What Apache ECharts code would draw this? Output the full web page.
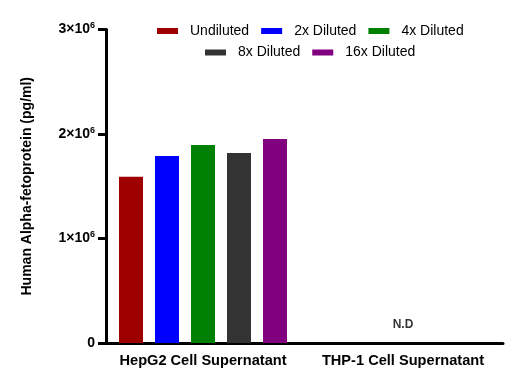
<!DOCTYPE html>
<html>
<head>
<meta charset="utf-8">
<script src="https://cdn.jsdelivr.net/npm/echarts@6/dist/echarts.min.js"></script>
<style>html,body{margin:0;padding:0;background:#fff;}#c{width:510px;height:384px;}</style>
</head>
<body>
<div id="c"></div>
<script>
var categories = ['HepG2 Cell Supernatant', 'THP-1 Cell Supernatant'];
var seriesNames = ['Undiluted', '2x Diluted', '4x Diluted', '8x Diluted', '16x Diluted'];
var undiluted = [1590000, null];
var diluted2x = [1790000, null];
var diluted4x = [1895000, null];
var diluted8x = [1818000, null];
var diluted16x = [1952000, null];
var notDetected = [null, 0];
var notDetectedLabel = 'N.D';
var yTicks = [0, 1000000, 2000000, 3000000];

var colors = ['#9E0000', '#0000FF', '#008000', '#333333', '#800080'];
var values = [undiluted, diluted2x, diluted4x, diluted8x, diluted16x];
var FONT = '"Liberation Sans", Arial, sans-serif';

var chart = echarts.init(document.getElementById('c'));
var series = seriesNames.map(function (n, i) {
  return {
    name: n, type: 'bar', data: values[i], barWidth: 24, barGap: '50%',
    itemStyle: { color: colors[i] }
  };
});
series.push({
  name: 'nd', type: 'scatter', data: notDetected, symbolSize: 0,
  label: { show: true, position: 'top', distance: 12, formatter: notDetectedLabel,
    fontFamily: FONT, fontWeight: 'bold', fontSize: 12, color: '#000' },
  silent: true
});

var legendCommon = {
  icon: 'rect', itemWidth: 21, itemHeight: 6, itemGap: 12, padding: 0,
  textStyle: { fontFamily: FONT, fontSize: 14, color: '#000', padding: [0, 0, 0, 7] },
  selectedMode: false
};

chart.setOption({
  animation: false,
  backgroundColor: '#fff',
  color: colors,
  grid: { left: 103, right: 7, top: 29.5, bottom: 41, containLabel: false },
  legend: [
    Object.assign({ data: seriesNames.slice(0, 3), left: 157, top: 24 }, legendCommon),
    Object.assign({ data: seriesNames.slice(3), left: 205, top: 45.5 }, legendCommon)
  ],
  xAxis: {
    type: 'category', data: categories,
    axisLine: { lineStyle: { color: '#000', width: 3 } },
    axisTick: { alignWithLabel: true, length: 3, lineStyle: { color: '#000', width: 2 } },
    axisLabel: { interval: 0, fontFamily: FONT, fontWeight: 'bold', fontSize: 14.6, color: '#000', margin: 10 }
  },
  yAxis: {
    type: 'value', min: yTicks[0], max: yTicks[yTicks.length - 1], interval: yTicks[1] - yTicks[0],
    offset: -3,
    name: 'Human Alpha-fetoprotein (pg/ml)', nameLocation: 'middle', nameGap: 72,
    nameTextStyle: { fontFamily: FONT, fontWeight: 'bold', fontSize: 14, color: '#000' },
    splitLine: { show: false },
    axisLine: { show: true, lineStyle: { color: '#000', width: 3 } },
    axisTick: { show: true, length: 8, lineStyle: { color: '#000', width: 3 } },
    axisLabel: {
      margin: 11, color: '#000',
      formatter: function (v) {
        if (v === 0) return '{a|0}';
        return '{a|' + (v / 1000000) + '×10}{s|6}';
      },
      rich: {
        a: { fontFamily: FONT, fontWeight: 'bold', fontSize: 14, color: '#000', lineHeight: 16 },
        s: { fontFamily: FONT, fontWeight: 'bold', fontSize: 9, color: '#000', lineHeight: 16, verticalAlign: 'top', padding: [0, 0, 4, 0] }
      }
    }
  },
  series: series
});
</script>
</body>
</html>
